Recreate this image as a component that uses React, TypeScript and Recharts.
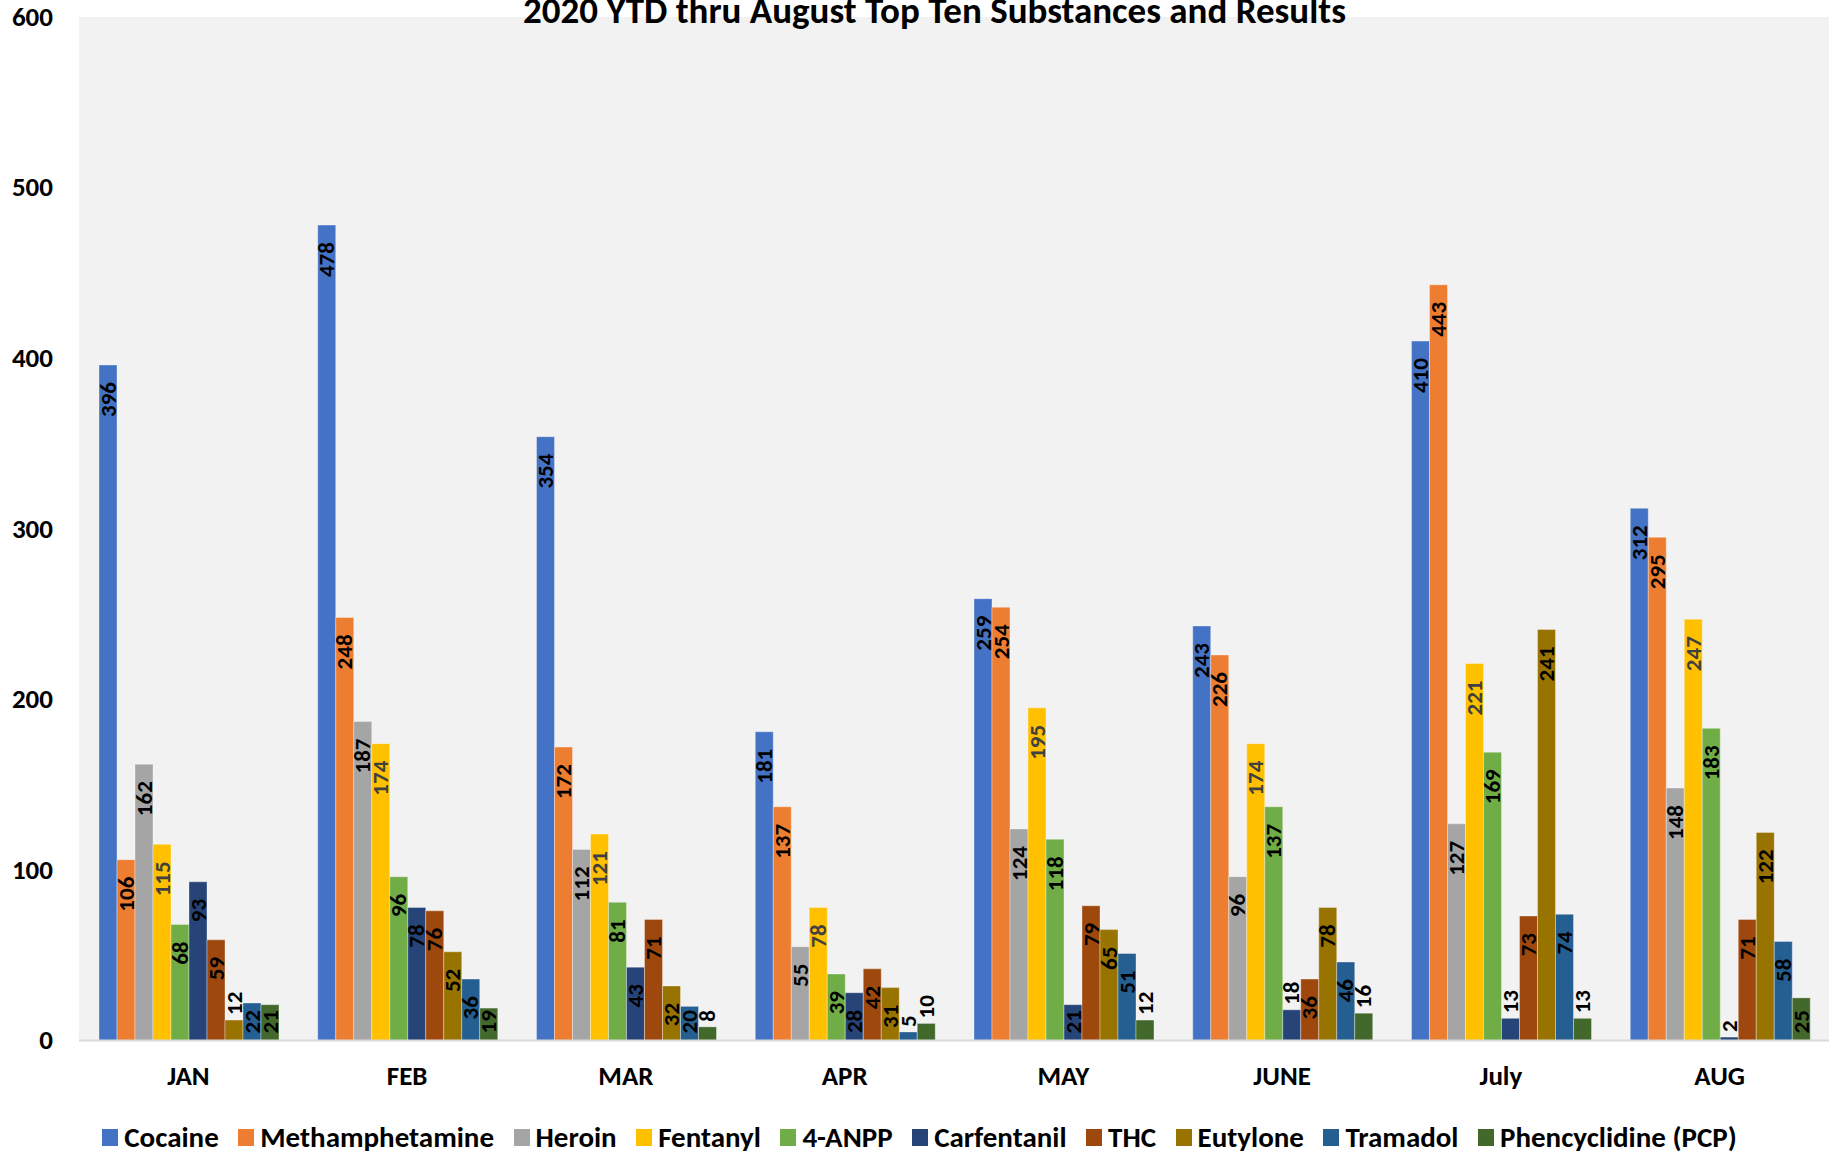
import React from 'react';
import { BarChart, Bar, XAxis, YAxis, Legend, LabelList, CartesianGrid } from 'recharts';

const months = ['JAN', 'FEB', 'MAR', 'APR', 'MAY', 'JUNE', 'July', 'AUG'];
const cocaine = [396, 478, 354, 181, 259, 243, 410, 312];
const methamphetamine = [106, 248, 172, 137, 254, 226, 443, 295];
const heroin = [162, 187, 112, 55, 124, 96, 127, 148];
const fentanyl = [115, 174, 121, 78, 195, 174, 221, 247];
const anpp = [68, 96, 81, 39, 118, 137, 169, 183];
const carfentanil = [93, 78, 43, 28, 21, 18, 13, 2];
const thc = [59, 76, 71, 42, 79, 36, 73, 71];
const eutylone = [12, 52, 32, 31, 65, 78, 241, 122];
const tramadol = [22, 36, 20, 5, 51, 46, 74, 58];
const pcp = [21, 19, 8, 10, 12, 16, 13, 25];
const yTicks = [0, 100, 200, 300, 400, 500, 600];
const title = '2020 YTD thru August Top Ten Substances and Results';

const series = [
  { key: 'cocaine', name: 'Cocaine', values: cocaine, color: '#4472C4', label: '#000000' },
  { key: 'meth', name: 'Methamphetamine', values: methamphetamine, color: '#ED7D31', label: '#000000' },
  { key: 'heroin', name: 'Heroin', values: heroin, color: '#A5A5A5', label: '#000000' },
  { key: 'fentanyl', name: 'Fentanyl', values: fentanyl, color: '#FFC000', label: '#404040' },
  { key: 'anpp', name: '4-ANPP', values: anpp, color: '#70AD47', label: '#000000' },
  { key: 'carfentanil', name: 'Carfentanil', values: carfentanil, color: '#264478', label: '#000000' },
  { key: 'thc', name: 'THC', values: thc, color: '#9E480E', label: '#000000' },
  { key: 'eutylone', name: 'Eutylone', values: eutylone, color: '#997300', label: '#000000' },
  { key: 'tramadol', name: 'Tramadol', values: tramadol, color: '#255E91', label: '#000000' },
  { key: 'pcp', name: 'Phencyclidine (PCP)', values: pcp, color: '#43682B', label: '#000000' },
];

const data = months.map((m, i) => {
  const row: Record<string, string | number> = { month: m };
  series.forEach((s) => {
    row[s.key] = s.values[i];
  });
  return row;
});

const FONT = 'Carlito, Lato, "Open Sans", sans-serif';
const LABEL_SIZE = 23;

const makeLabel = (color: string) => (props: any) => {
  const { x, y, width, height, value } = props;
  const cx = Number(x) + Number(width) / 2;
  const top = Number(y);
  const h = Number(height);
  const base = top + h;
  const len = String(value).length * LABEL_SIZE * 0.507;
  const common = {
    fill: color,
    fontSize: LABEL_SIZE,
    fontWeight: 700,
    fontFamily: FONT,
    dy: '0.33em',
  };
  if (h >= 31) {
    let t = top + 17;
    if (t + len > base - 7) t = base - 7 - len;
    return (
      <text transform={`translate(${cx},${t}) rotate(-90)`} textAnchor="end" {...common}>
        {value}
      </text>
    );
  }
  return (
    <text transform={`translate(${cx},${top - 5}) rotate(-90)`} textAnchor="start" {...common}>
      {value}
    </text>
  );
};

const XTick = (props: any) => {
  const { x, y, payload } = props;
  return (
    <text x={x} y={Number(y) + 44} textAnchor="middle" fill="#000" fontSize={27} fontWeight={700} fontFamily={FONT}>
      {payload.value}
    </text>
  );
};

const YTick = (props: any) => {
  const { x, y, payload } = props;
  return (
    <text x={Number(x) - 26} y={y} dy="0.33em" textAnchor="end" fill="#000" fontSize={27} fontWeight={700} fontFamily={FONT}>
      {payload.value}
    </text>
  );
};

const LegendContent = () => (
  <div
    style={{
      display: 'flex',
      justifyContent: 'center',
      alignItems: 'center',
      height: 36,
      gap: 19.5,
      fontFamily: FONT,
      fontWeight: 700,
      fontSize: 29,
      color: '#000',
      whiteSpace: 'nowrap',
    }}
  >
    {series.map((s) => (
      <div key={s.key} style={{ display: 'flex', alignItems: 'center', gap: 6 }}>
        <span style={{ display: 'inline-block', width: 16, height: 17, background: s.color }} />
        <span>{s.name}</span>
      </div>
    ))}
  </div>
);

export default function App() {
  return (
    <div style={{ position: 'absolute', left: 0, top: 0, width: 1839, height: 1155, background: '#fff' }}>
      <BarChart
        width={1839}
        height={1155}
        data={data}
        margin={{ top: 17, right: 10, bottom: 18.5, left: 0 }}
        barCategoryGap={20}
        barGap={0}
      >
        <CartesianGrid fill="#F2F2F2" stroke="none" horizontal={false} vertical={false} />
        <XAxis
          dataKey="month"
          height={60}
          axisLine={{ stroke: '#D9D9D9', strokeWidth: 2 }}
          tickLine={false}
          tickSize={0}
          tickMargin={0}
          tick={<XTick />}
          interval={0}
        />
        <YAxis
          width={79}
          domain={[0, 600]}
          ticks={yTicks}
          axisLine={false}
          tickLine={false}
          tickSize={0}
          tickMargin={0}
          tick={<YTick />}
          interval={0}
        />
        <Legend
          verticalAlign="bottom"
          wrapperStyle={{ left: 0, width: 1839, bottom: 0, height: 36 }}
          content={<LegendContent />}
        />
        {series.map((s) => (
          <Bar
            key={s.key}
            dataKey={s.key}
            name={s.name}
            fill={s.color}
            stroke="#FFFFFF"
            strokeOpacity={0.35}
            strokeWidth={1}
            isAnimationActive={false}
          >
            <LabelList dataKey={s.key} content={makeLabel(s.label)} />
          </Bar>
        ))}
        <text x={934.5} y={23} textAnchor="middle" fill="#000" fontSize={37} fontWeight={700} fontFamily={FONT}>
          {title}
        </text>
      </BarChart>
    </div>
  );
}
